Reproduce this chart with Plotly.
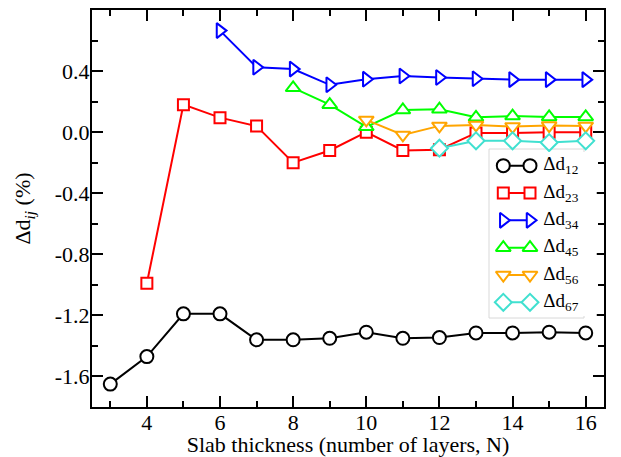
import plotly.graph_objects as go

# ---- data ----
n12 = [3, 4, 5, 6, 7, 8, 9, 10, 11, 12, 13, 14, 15, 16]
d12 = [-1.65, -1.47, -1.19, -1.19, -1.36, -1.36, -1.35, -1.31, -1.35, -1.345, -1.315, -1.315, -1.31, -1.315]

n23 = [4, 5, 6, 7, 8, 9, 10, 11, 12, 13, 14, 15, 16]
d23 = [-0.99, 0.18, 0.095, 0.04, -0.20, -0.12, 0.0, -0.12, -0.115, -0.005, -0.005, 0.0, 0.0]

n34 = [6, 7, 8, 9, 10, 11, 12, 13, 14, 15, 16]
d34 = [0.665, 0.425, 0.413, 0.31, 0.347, 0.368, 0.358, 0.35, 0.344, 0.344, 0.344]

n45 = [8, 9, 10, 11, 12, 13, 14, 15, 16]
d45 = [0.29, 0.18, 0.035, 0.145, 0.15, 0.097, 0.105, 0.1, 0.1]

n56 = [10, 11, 12, 13, 14, 15, 16]
d56 = [0.08, -0.018, 0.041, 0.047, 0.037, 0.043, 0.041]

n67 = [12, 13, 14, 15, 16]
d67 = [-0.105, -0.057, -0.057, -0.068, -0.057]

series_names = ["Δd<sub>12</sub>", "Δd<sub>23</sub>", "Δd<sub>34</sub>",
                "Δd<sub>45</sub>", "Δd<sub>56</sub>", "Δd<sub>67</sub>"]
legend_rows = [0, 1, 2, 3, 4, 5]

x_tickvals = [4, 6, 8, 10, 12, 14, 16]
y_tickvals = [-1.6, -1.2, -0.8, -0.4, 0.0, 0.4]
y_ticktext = ["-1.6", "-1.2", "-0.8", "-0.4", "0.0", "0.4"]

FONT = "Liberation Serif, Times New Roman, serif"
styles = [
    ("#000000", "circle", 13),
    ("#ff0000", "square", 11),
    ("#0000ff", "triangle-right", 13),
    ("#00ff00", "triangle-up", 13),
    ("#ffa500", "triangle-down", 13),
    ("#40e0d0", "diamond", 13),
]
data = [(n12, d12), (n23, d23), (n34, d34), (n45, d45), (n56, d56), (n67, d67)]

fig = go.Figure()
for (xs, ys), (col, sym, sz) in zip(data, styles):
    fig.add_trace(go.Scatter(
        x=xs, y=ys, mode="lines+markers",
        line=dict(color=col, width=2),
        marker=dict(symbol=sym, size=sz, color="white", line=dict(color=col, width=2)),
        showlegend=False, cliponaxis=False,
    ))

# ---- custom legend drawn on a small secondary axis pair ----
for row, (col, sym, sz) in zip(legend_rows, styles):
    fig.add_trace(go.Scatter(
        x=[0, 1], y=[row, row], xaxis="x2", yaxis="y2", mode="lines+markers",
        line=dict(color=col, width=2),
        marker=dict(symbol=sym, size=sz, color="white", line=dict(color=col, width=2)),
        showlegend=False, cliponaxis=False, hoverinfo="skip",
    ))
fig.add_trace(go.Scatter(
    x=[1.5] * len(legend_rows), y=legend_rows, xaxis="x2", yaxis="y2",
    mode="text", text=series_names, textposition="middle right",
    textfont=dict(family=FONT, size=19, color="black"),
    showlegend=False, cliponaxis=False, hoverinfo="skip",
))

W, H = 621, 457
L, R, T, B = 92, 17, 10, 50
pw, ph = W - L - R, H - T - B
def px_x(p):
    return (p - L) / pw
def px_y(p):
    return (H - B - p) / ph

fig.add_shape(type="rect", xref="paper", yref="paper",
              x0=px_x(489), x1=px_x(584), y0=px_y(318), y1=px_y(149),
              line=dict(color="#d8d8d8", width=1), fillcolor="white", layer="below")

axis_common = dict(
    showline=True, linecolor="black", linewidth=2, mirror="allticks",
    ticks="inside", ticklen=11, tickwidth=2, tickcolor="black",
    showgrid=False, zeroline=False, automargin=False,
    tickfont=dict(family=FONT, size=22, color="black"),
)

unit = 26.7  # legend sample spacing in px
fig.update_layout(
    width=W, height=H,
    margin=dict(l=L, r=R, t=T, b=B),
    plot_bgcolor="white", paper_bgcolor="white",
    font=dict(family=FONT, color="black"),
    xaxis=dict(range=[2.5, 16.5], tickmode="array", tickvals=x_tickvals,
               minor=dict(tickmode="linear", tick0=1, dtick=2, ticklen=6, tickwidth=2,
                          tickcolor="black", ticks="inside"),
               ticklabelstandoff=-5,
               title=dict(text="Slab thickness (number of layers, N)",
                          font=dict(family=FONT, size=22, color="black"), standoff=2),
               **axis_common),
    yaxis=dict(range=[-1.8, 0.8], tickmode="array", tickvals=y_tickvals, ticktext=y_ticktext,
               minor=dict(tickmode="linear", tick0=0, dtick=0.2, ticklen=6, tickwidth=2,
                          tickcolor="black", ticks="inside"),
               ticklabelstandoff=-4,
               title=dict(text="Δd<sub><i>ij</i></sub> (%)",
                          font=dict(family=FONT, size=22, color="black"), standoff=18),
               **axis_common),
    xaxis2=dict(domain=[px_x(503.3 - 0.5 * unit), px_x(503.3 + 3.5 * unit)],
                range=[-0.5, 3.5], anchor="y2", visible=False, fixedrange=True),
    yaxis2=dict(domain=[px_y(316), px_y(152)], range=[5.5, -0.5], anchor="x2",
                visible=False, fixedrange=True),
    showlegend=False,
)

fig.write_html("out.html", config={"displayModeBar": False},
               post_script="document.body.style.margin='0';")
